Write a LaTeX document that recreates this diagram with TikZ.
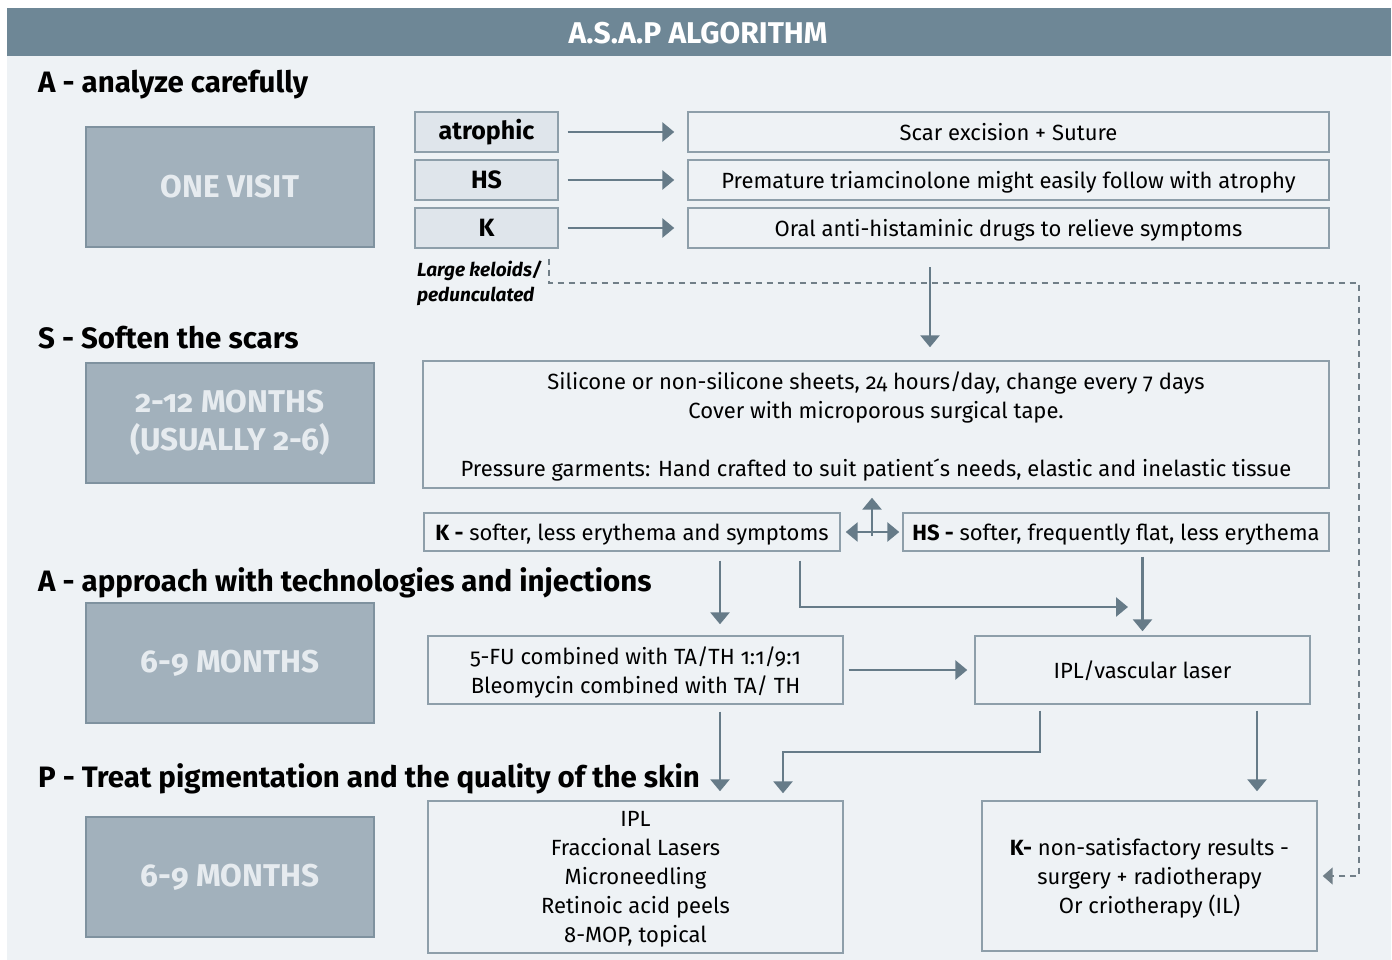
\documentclass[tikz,border=0pt]{standalone}
\usepackage{fontspec}
\setmainfont{Fira Sans}[Numbers=OldStyle]
\usepackage{tikz}
\usetikzlibrary{arrows.meta, positioning, calc}
\definecolor{barblue}{HTML}{6E8796}
\definecolor{panel}{HTML}{EEF2F5}
\definecolor{stagefill}{HTML}{A2B1BC}
\definecolor{stageedge}{HTML}{7F929F}
\definecolor{stagetext}{HTML}{E6EBEF}
\definecolor{tagfill}{HTML}{DFE5EB}
\definecolor{boxedge}{HTML}{8E9FAA}
\definecolor{arrowgray}{HTML}{667B88}
\newcommand{\fsz}[2]{\fontsize{#1}{#2}\selectfont}
\newcommand{\drawa}{\draw[arrowgray, line width=2.8pt, ->]}

\begin{document}
\begin{tikzpicture}[x=1pt, y=-1pt, >={Triangle[length=12pt,width=19pt]},
  stage/.style={draw=stageedge, fill=stagefill, text=stagetext, line width=1.4pt,
    minimum width=288pt, minimum height=120pt, align=center, font=\bfseries\fsz{31.5}{38}},
  tag/.style={draw=boxedge, fill=tagfill, line width=1.4pt, minimum width=143pt,
    minimum height=40pt, inner sep=0pt, font=\bfseries\fsz{25}{29}},
  info/.style={draw=boxedge, line width=1.4pt, align=center, inner sep=0pt, text depth=0pt, font=\fsz{22}{29}},
  heading/.style={anchor=base west, inner sep=0pt, font=\bfseries\fsz{29.5}{32}}]
\useasboundingbox (0,0) rectangle (1392,960);
% background and title bar
\fill[white] (0,0) rectangle (1392,960);
\fill[panel] (7,8) rectangle (1391,960);
\fill[barblue] (7,8) rectangle (1391,56);
\node[text=white, font=\bfseries\fsz{30}{32}] (title) at (698,33) {A.S.A.P ALGORITHM};

% headings
\node[heading] (hA) at (38,93) {A - analyze carefully};
\node[heading] (hS) at (38,348) {S - Soften the scars};
\node[heading] (hT) at (38,591) {A - approach with technologies and injections};
\node[heading] (hP) at (38,787) {P - Treat pigmentation and the quality of the skin};

% stage boxes
\node[stage] (visit) at (230,187) {ONE VISIT};
\node[stage] (soft) at (230,423) {2-12 MONTHS\\(USUALLY 2-6)};
\node[stage] (tech) at (230,663) {6-9 MONTHS};
\node[stage] (pigm) at (230,877) {6-9 MONTHS};

% scar types
\node[tag] (atro) at (486.5,132) {atrophic};
\node[tag] (hstag) at (486.5,180) {HS};
\node[tag] (ktag) at (486.5,228) {K};
\node[anchor=north west, align=left, inner sep=0pt, font=\bfseries\itshape\fsz{19}{25}] (large) at (417,261) {Large keloids/\\pedunculated};

% first treatments
\node[info, minimum width=641pt, minimum height=40pt] (scar) at (1008.5,132) {Scar excision + Suture};
\node[info, minimum width=641pt, minimum height=40pt] (prem) at (1008.5,180) {Premature triamcinolone might easily follow with atrophy};
\node[info, minimum width=641pt, minimum height=40pt] (oral) at (1008.5,228) {Oral anti-histaminic drugs to relieve symptoms};
\drawa[shorten <=9pt, shorten >=13pt] (atro) -- (scar);
\drawa[shorten <=9pt, shorten >=13pt] (hstag) -- (prem);
\drawa[shorten <=9pt, shorten >=13pt] (ktag) -- (oral);

% softening
\node[info, minimum width=906pt, minimum height=127pt] (sheet) at (876,424.5)
  {Silicone or non-silicone sheets, 24 hours/day, change every 7 days\\Cover with microporous surgical tape.\\[29pt]Pressure garments: Hand crafted to suit patient\'{}s needs, elastic and inelastic tissue};
\coordinate (drop) at (930,267);
\drawa[shorten >=13pt] (drop) -- (drop |- sheet.north);

\node[info, minimum width=416pt, minimum height=38pt] (kres) at (632,532) {\textbf{K -} softer, less erythema and symptoms};
\node[info, minimum width=426pt, minimum height=38pt] (hsres) at (1116,532) {\textbf{HS -} softer, frequently flat, less erythema};
\coordinate (hub) at (872,536);
\drawa[shorten >=9pt] (hub) -- (hub |- sheet.south);
\draw[arrowgray, line width=2.8pt, <->, shorten <=5pt, shorten >=3pt] (kres) -- (hsres);

% technologies and injections
\node[info, minimum width=415pt, minimum height=68pt] (inj) at (635.5,670) {5-FU combined with TA/TH 1:1/9:1\\Bleomycin combined with TA/ TH};
\node[info, minimum width=335pt, minimum height=68pt] (ipl) at (1142.5,670) {IPL/vascular laser};
\coordinate (colA) at (720,0);
\coordinate (colB) at (800,0);
\coordinate (meet) at (1128,607);
\drawa[shorten <=9pt, shorten >=11pt] (kres.south -| colA) -- (inj.north -| colA);
\drawa[shorten <=9pt] (kres.south -| colB) |- (meet);
\drawa[shorten <=5pt, shorten >=4pt] (hsres.south -| ipl.north) -- (ipl.north);
\drawa[shorten <=5pt, shorten >=7pt] (inj) -- (ipl);

% pigmentation and quality
\node[info, minimum width=415pt, minimum height=152pt] (skin) at (635.5,877) {IPL\\Fraccional Lasers\\Microneedling\\Retinoic acid peels\\8-MOP, topical};
\node[info, minimum width=335pt, minimum height=150pt] (kfinal) at (1149.5,876) {\textbf{K-} non-satisfactory results -\\surgery + radiotherapy\\Or criotherapy (IL)};
\coordinate (colC) at (1040,752);
\coordinate (colD) at (783,752);
\coordinate (colE) at (1257,0);
\drawa[shorten <=7pt, shorten >=9pt] (inj.south -| colA) -- (skin.north -| colA);
\drawa[shorten <=6pt, shorten >=7pt] (ipl.south -| colC) -- (colC) -- (colD) -- (skin.north -| colD);
\drawa[shorten <=6pt, shorten >=9pt] (ipl.south -| colE) -- (kfinal.north -| colE);

% large keloids path
\coordinate (bend) at (549,283);
\coordinate (loop) at (1359,283);
\draw[boxedge!80!black, line width=1.5pt, dash pattern=on 6pt off 5pt, -{Triangle[length=10pt,width=17pt]}, shorten <=10pt, shorten >=5pt]
  (ktag.south -| bend) -- (bend) -- (loop) |- (kfinal.east);
\end{tikzpicture}
\end{document}
